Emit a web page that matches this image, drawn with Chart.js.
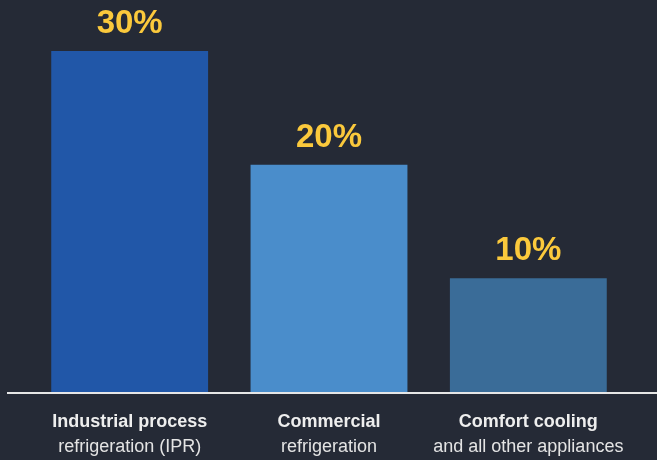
<!DOCTYPE html>
<html>
<head>
<meta charset="utf-8">
<script src="https://cdn.jsdelivr.net/npm/chart.js@4/dist/chart.umd.min.js"></script>
<style>
  html, body { margin: 0; padding: 0; background: #252a36; }
  #wrap { width: 657px; height: 460px; position: relative; }
</style>
</head>
<body>
<div id="wrap"><canvas id="chart"></canvas></div>
<script>
const titleLines = ['Industrial process', 'Commercial', 'Comfort cooling'];
const subLines = ['refrigeration (IPR)', 'refrigeration', 'and all other appliances'];
const shares = [30, 20, 10];
const barColors = ['#2157a8', '#4a8dcb', '#3a6c98'];

// values over bars, labels under the axis, white baseline
const decorPlugin = {
    id: 'decor',
    afterDatasetsDraw(chart) {
        const ctx = chart.ctx;
        const meta = chart.getDatasetMeta(0);
        const xScale = chart.scales.x;
        const yScale = chart.scales.y;
        const baseY = yScale.getPixelForValue(0);

        ctx.save();
        ctx.strokeStyle = '#e6e6e6';
        ctx.lineWidth = 2;
        ctx.beginPath();
        ctx.moveTo(7, baseY + 1);
        ctx.lineTo(chart.width, baseY + 1);
        ctx.stroke();

        ctx.textAlign = 'center';
        ctx.textBaseline = 'alphabetic';
        meta.data.forEach(function(bar, i) {
            ctx.fillStyle = '#fbc93c';
            ctx.font = 'bold 33px "Liberation Sans", Arial, sans-serif';
            ctx.fillText(shares[i] + '%', bar.x, bar.y - 18);

            const cx = xScale.getPixelForValue(i);
            ctx.fillStyle = '#eeeeee';
            ctx.font = 'bold 18px "Liberation Sans", Arial, sans-serif';
            ctx.fillText(titleLines[i], cx, baseY + 35);
            ctx.fillStyle = '#e4e4e4';
            ctx.font = '18px "Liberation Sans", Arial, sans-serif';
            ctx.fillText(subLines[i], cx, baseY + 60);
        });
        ctx.restore();
    }
};

new Chart(document.getElementById('chart'), {
    type: 'bar',
    data: {
        labels: titleLines,
        datasets: [{
            data: shares,
            backgroundColor: barColors,
            borderWidth: 0,
            categoryPercentage: 1,
            barPercentage: 0.787
        }]
    },
    options: {
        responsive: true,
        maintainAspectRatio: false,
        animation: false,
        layout: { padding: { top: 51, bottom: 68, left: 30, right: 29 } },
        plugins: {
            legend: { display: false },
            tooltip: { enabled: false }
        },
        scales: {
            x: { display: false },
            y: { display: false, min: 0, max: 30 }
        }
    },
    plugins: [decorPlugin]
});
</script>
</body>
</html>
